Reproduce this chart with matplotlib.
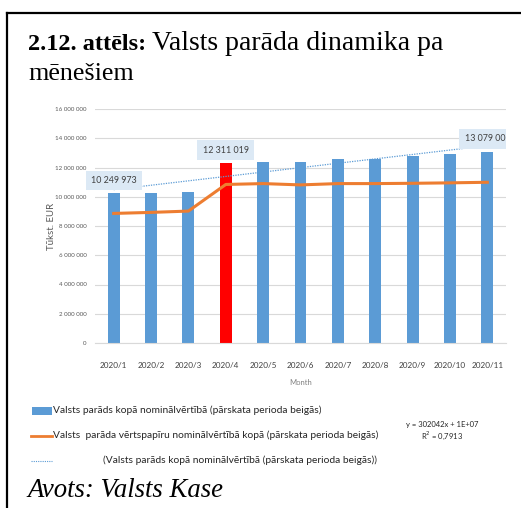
import numpy as np
import matplotlib
matplotlib.use("Agg")
from matplotlib import pyplot as plt
from matplotlib.lines import Line2D
from matplotlib.patches import Rectangle

months = ["2020/1", "2020/2", "2020/3", "2020/4", "2020/5", "2020/6",
          "2020/7", "2020/8", "2020/9", "2020/10", "2020/11"]
total_debt = [10249973, 10250000, 10350000, 12311019, 12360000, 12360000,
              12590000, 12590000, 12820000, 12930000, 13079007]
securities = [8860000, 8930000, 9020000, 10840000, 10900000, 10810000,
              10900000, 10900000, 10920000, 10950000, 10990000]
yticks = [0, 2000000, 4000000, 6000000, 8000000, 10000000, 12000000, 14000000, 16000000]
labelled = [0, 3, 10]

BLUE = "#5B9BD5"
ORANGE = "#ED7D31"
SANS = ["Lato", "DejaVu Sans"]

W, H = 521, 508
fig = plt.figure(figsize=(W / 100, H / 100), dpi=100)


def fx(px):
    return px / W


def fy(py):
    return 1 - py / H


# frame
fig.add_artist(Line2D([fx(7), fx(7)], [fy(13), fy(510)], color="black", lw=1.6))
fig.add_artist(Line2D([fx(7), fx(521)], [fy(13), fy(13)], color="black", lw=1.6))

# title
t1 = fig.text(fx(28), fy(50), "2.12. attēls:", family="Liberation Serif",
              fontweight="bold", fontsize=17.5)
fig.canvas.draw()
bb = t1.get_window_extent()
fig.text(bb.x1 / W + fx(6), fy(50), "Valsts parāda dinamika pa",
         family="Liberation Serif", fontsize=20)
fig.text(fx(28), fy(80), "mēnešiem", family="Liberation Serif", fontsize=18.8)

ax = fig.add_axes([fx(95), fy(343), fx(506 - 95), (343 - 109) / H])
x = np.arange(len(months))
colors = [BLUE] * len(months)
colors[3] = "#FF0000"
ax.bar(x, total_debt, width=0.32, color=colors, zorder=2)
ax.plot(x, securities, color=ORANGE, lw=2.2, zorder=3)

# linear trend of total debt (x = 1..n as in Excel)
k, b = np.polyfit(x + 1, total_debt, 1)
ax.plot(x, k * (x + 1) + b, color=BLUE, lw=0.9, ls=(0, (1, 1)), zorder=3)

for i in labelled:
    ax.text(x[i], total_debt[i] + 870000, f"{total_debt[i]:,}".replace(",", " "),
            ha="center", va="center", fontsize=6.4, family=SANS, color="#404040",
            bbox=dict(boxstyle="square,pad=0.6", fc="#DCE9F5", ec="none"),
            clip_on=(i == labelled[-1]), zorder=4)

ax.set_xlim(-0.5, len(months) - 0.5)
ax.set_ylim(0, 16000000)
ax.set_yticks(yticks)
ax.set_yticklabels([f"{v:,}".replace(",", " ") for v in yticks])
ax.set_xticks(x)
ax.set_xticklabels(months)
ax.tick_params(axis="y", length=0, labelsize=4.4, labelcolor="#595959", pad=6)
ax.tick_params(axis="x", length=0, labelsize=5.9, labelcolor="#404040", pad=14)
for lab in ax.get_yticklabels() + ax.get_xticklabels():
    lab.set_family(SANS)
ax.grid(axis="y", color="#D9D9D9", lw=0.8, zorder=0)
for s in ["top", "right", "left"]:
    ax.spines[s].set_visible(False)
ax.spines["bottom"].set_color("#D9D9D9")
ax.set_xlabel("Month", fontsize=5.5, color="#808080", family=SANS, labelpad=7)
ax.set_ylabel("Tūkst. EUR", fontsize=7, color="#595959", family=SANS)
ax.yaxis.set_label_coords(-0.095, 0.5)

# legend
LEG = dict(fontsize=7.4, family=SANS, color="#262626", va="center")
fig.add_artist(Rectangle((fx(32), fy(415)), fx(20), 8 / H, color=BLUE, lw=0))
fig.text(fx(53), fy(410), "Valsts parāds kopā nominālvērtībā (pārskata perioda beigās)", **LEG)
fig.add_artist(Line2D([fx(31), fx(52)], [fy(436), fy(436)], color=ORANGE, lw=2))
fig.text(fx(53), fy(435), "Valsts  parāda vērtspapīru nominālvērtībā kopā (pārskata perioda beigās)", **LEG)
fig.add_artist(Line2D([fx(31), fx(52)], [fy(461), fy(461)], color=BLUE, lw=0.8, ls=(0, (1, 1))))
fig.text(fx(103), fy(460), "(Valsts parāds kopā nominālvērtībā (pārskata perioda beigās))", **LEG)

fig.text(fx(442), fy(424), "y = 302042x + 1E+07", fontsize=5.5, family=SANS,
         color="#262626", ha="center", va="center")
fig.text(fx(442), fy(436), "R$^2$ = 0,7913", fontsize=5.5, family=SANS,
         color="#262626", ha="center", va="center")

fig.text(fx(27), fy(497), "Avots: Valsts Kase", family="Liberation Serif",
         style="italic", fontsize=19.3)

fig.savefig("out.png", dpi=100)
